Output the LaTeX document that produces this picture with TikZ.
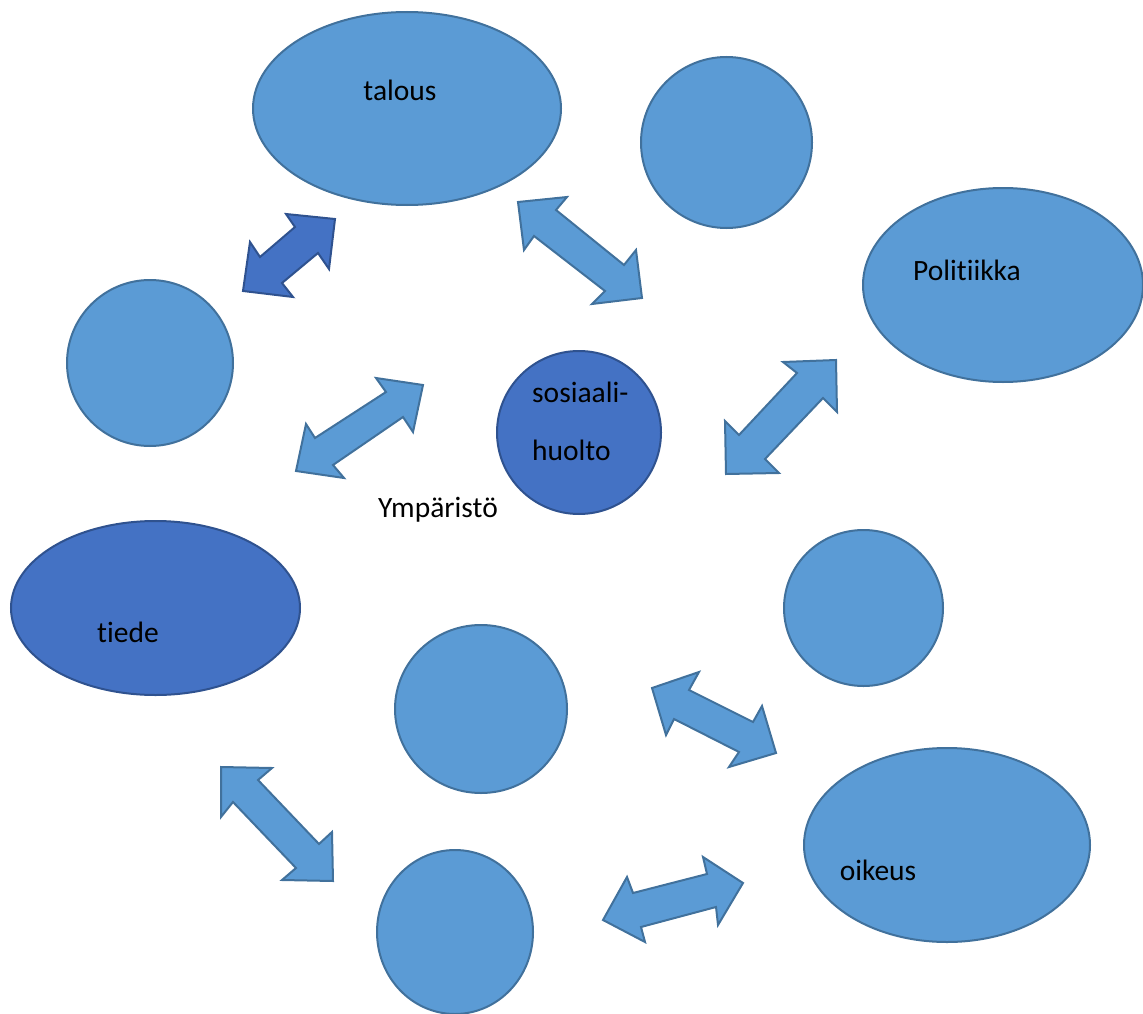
\documentclass[tikz,border=0pt]{standalone}
\usepackage{fontspec}
\setmainfont{Carlito}[Ligatures=NoCommon]
\usetikzlibrary{shapes.geometric}
\definecolor{lightfill}{HTML}{5B9BD5}
\definecolor{lightline}{HTML}{41719C}
\definecolor{darkfill}{HTML}{4472C4}
\definecolor{darkline}{HTML}{2F528F}
\tikzset{
  blob/.style={ellipse, inner sep=0pt, fill=lightfill, draw=lightline, line width=2pt},
  darkblob/.style={blob, fill=darkfill, draw=darkline},
  lbl/.style={inner sep=0pt, font=\fontsize{29.5}{35}\selectfont, text=black},
  blockarrow/.style={fill=lightfill, draw=lightline, line width=2pt, line join=miter},
  darkarrow/.style={blockarrow, fill=darkfill, draw=darkline},
}
\begin{document}
\begin{tikzpicture}[x=1pt, y=-1pt]
\useasboundingbox (0,0) rectangle (1143,1014);
\begin{scope}
\clip (0,0) rectangle (1143,1014);
% ellipses and circles
\node[blob, minimum width=308pt, minimum height=193pt] (talous) at (407,108.5) {};
\node[blob, minimum width=171pt, minimum height=171pt] (topright) at (726.5,142.5) {};
\node[blob, minimum width=280pt, minimum height=194pt] (politiikka) at (1003,285) {};
\node[blob, minimum width=166pt, minimum height=166pt] (leftc) at (150,363) {};
\node[darkblob, minimum width=164pt, minimum height=163pt] (sosiaali) at (579,432.5) {};
\node[darkblob, minimum width=289pt, minimum height=174pt] (tiede) at (155.5,608) {};
\node[blob, minimum width=159pt, minimum height=156pt] (rightmid) at (863.5,608) {};
\node[blob, minimum width=172pt, minimum height=168pt] (midc) at (481,709) {};
\node[blob, minimum width=286pt, minimum height=194pt] (oikeus) at (947,845) {};
\node[blob, minimum width=156pt, minimum height=164pt] (bottomc) at (455,932) {};
% labels
\node[lbl] (tTalous) at (400,90) {talous};
\node[lbl] (tPol) at (967,270) {Politiikka};
\node[lbl, anchor=west] (tSos1) at (532,392) {sosiaali-};
\node[lbl, anchor=west] (tSos2) at (532,450) {huolto};
\node[lbl] (tYmp) at (438,510) {Ympäristö};
\node[lbl] (tTiede) at (128,632) {tiede};
\node[lbl] (tOik) at (878,870) {oikeus};
% block arrows
\draw[darkarrow] (335,219) -- (286,214) -- (295,227) -- (260,257) -- (250,242) -- (243,291) -- (293,297) -- (282,283) -- (318,253) -- (329,269) -- cycle;
\draw[blockarrow] (518,202) -- (567,197) -- (556,210) -- (624,265) -- (636,250) -- (642,298) -- (592,304) -- (605,291) -- (534,236) -- (524,250) -- cycle;
\draw[blockarrow] (423,385) -- (376,378) -- (386,392) -- (315,438) -- (306,424) -- (296,471) -- (344,478) -- (333,465) -- (403,417) -- (413,432) -- cycle;
\draw[blockarrow] (836,360) -- (783,362) -- (797,373) -- (739,435) -- (725,421) -- (726,474) -- (779,473) -- (765,459) -- (823,398) -- (837,412) -- cycle;
\draw[blockarrow] (652,688) -- (699,672) -- (689,690) -- (753,722) -- (762,706) -- (776,753) -- (729,767) -- (739,752) -- (674,719) -- (666,735) -- cycle;
\draw[blockarrow] (221,767) -- (272,768) -- (258,780) -- (319,844) -- (332,832) -- (333,881) -- (282,880) -- (296,868) -- (233,802) -- (221,817) -- cycle;
\draw[blockarrow] (743,883) -- (703,857) -- (707,874) -- (633,893) -- (627,877) -- (603,920) -- (645,942) -- (641,927) -- (716,907) -- (718,925) -- cycle;
\end{scope}
\end{tikzpicture}
\end{document}
